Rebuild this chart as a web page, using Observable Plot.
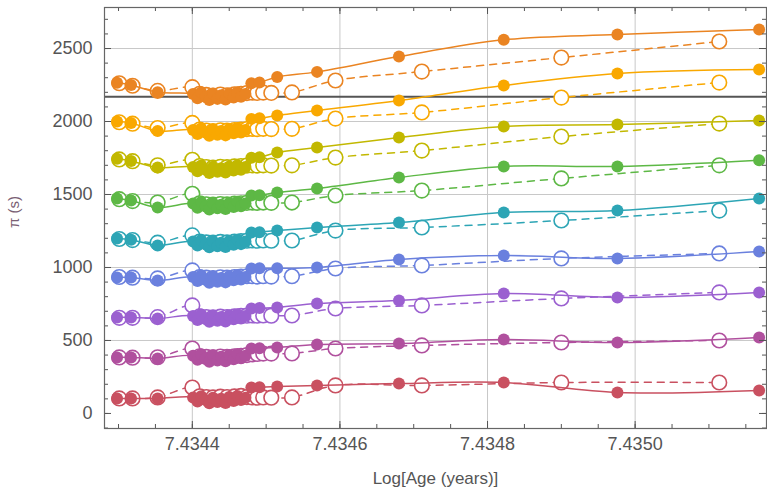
<!DOCTYPE html>
<html><head><meta charset="utf-8">
<script src="https://cdn.jsdelivr.net/npm/d3@7"></script>
<script src="https://cdn.jsdelivr.net/npm/@observablehq/plot@0.6"></script>
<style>body{margin:0;background:#fff}</style>
</head><body><div id="chart"></div>
<script>
// Log[Age] positions of the filled (solid) and open (dashed) model points
const xFilled = [7.434298, 7.434317, 7.434353, 7.434401, 7.434407, 7.434412, 7.434418, 7.434423, 7.434428, 7.434434, 7.434439, 7.434445, 7.434450, 7.434456, 7.434461, 7.434466, 7.434472, 7.434480, 7.434491, 7.434515, 7.434569, 7.434680, 7.434822, 7.434976, 7.435168];
const xOpen = [7.434301, 7.434319, 7.434353, 7.434400, 7.434410, 7.434419, 7.434428, 7.434438, 7.434447, 7.434457, 7.434466, 7.434474, 7.434481, 7.434488, 7.434496, 7.434507, 7.434535, 7.434594, 7.434711, 7.434900, 7.435114];

const seriesNames = ["red", "pink", "purple", "blue", "teal", "green", "olive", "yellow", "orange"];
const seriesColors = ["#c95060", "#b0509e", "#9b60d0", "#6a80de", "#2da5b5", "#5db845", "#c2b800", "#f9a800", "#ea8422"];

const redFilled = [103, 103, 103, 110, 82, 118, 92, 70, 108, 78, 100, 72, 112, 86, 120, 92, 108, 178, 180, 185, 192, 205, 212, 144, 158];
const redOpen = [103, 103, 110, 178, 118, 112, 110, 115, 112, 117, 120, 112, 110, 108, 110, 108, 110, 192, 192, 212, 212];
const pinkFilled = [384, 384, 377, 395, 368, 405, 378, 355, 398, 362, 388, 358, 400, 372, 408, 378, 396, 445, 447, 452, 473, 479, 507, 486, 521];
const pinkOpen = [384, 382, 385, 445, 392, 387, 385, 390, 387, 392, 395, 400, 405, 408, 410, 410, 411, 445, 466, 486, 500];
const purpleFilled = [658, 658, 651, 668, 640, 678, 650, 628, 670, 635, 660, 630, 672, 645, 680, 650, 668, 719, 722, 726, 753, 774, 822, 795, 829];
const purpleOpen = [655, 655, 660, 740, 665, 660, 658, 663, 660, 665, 668, 670, 671, 670, 671, 670, 671, 719, 740, 788, 829];
const blueFilled = [932, 932, 911, 935, 908, 945, 918, 895, 938, 902, 928, 898, 940, 912, 948, 918, 935, 993, 995, 995, 1000, 1055, 1082, 1062, 1110];
const blueOpen = [935, 930, 925, 980, 935, 930, 928, 933, 930, 935, 938, 940, 940, 938, 940, 938, 940, 993, 1014, 1062, 1096];
const tealFilled = [1199, 1190, 1151, 1178, 1150, 1188, 1160, 1138, 1180, 1145, 1170, 1140, 1182, 1155, 1190, 1160, 1178, 1240, 1242, 1253, 1274, 1308, 1377, 1390, 1473];
const tealOpen = [1195, 1188, 1170, 1220, 1178, 1172, 1170, 1175, 1172, 1177, 1180, 1183, 1185, 1183, 1185, 1183, 1185, 1253, 1274, 1322, 1390];
const greenFilled = [1473, 1459, 1411, 1438, 1410, 1448, 1420, 1398, 1440, 1405, 1430, 1400, 1442, 1415, 1450, 1420, 1438, 1493, 1495, 1514, 1541, 1616, 1692, 1692, 1735];
const greenOpen = [1468, 1455, 1445, 1505, 1440, 1433, 1430, 1435, 1432, 1437, 1440, 1443, 1445, 1443, 1445, 1443, 1445, 1493, 1527, 1610, 1700];
const oliveFilled = [1745, 1730, 1685, 1688, 1660, 1698, 1670, 1648, 1690, 1655, 1680, 1650, 1692, 1665, 1700, 1670, 1688, 1752, 1755, 1788, 1822, 1890, 1966, 1979, 2007];
const oliveOpen = [1740, 1728, 1700, 1738, 1695, 1688, 1685, 1690, 1687, 1692, 1695, 1698, 1700, 1698, 1700, 1698, 1700, 1753, 1801, 1897, 1986];
const yellowFilled = [2000, 1990, 1935, 1942, 1915, 1952, 1925, 1903, 1945, 1910, 1935, 1905, 1948, 1920, 1955, 1925, 1942, 2018, 2022, 2041, 2075, 2144, 2247, 2329, 2356];
const yellowOpen = [1995, 1985, 1955, 1990, 1945, 1938, 1935, 1940, 1937, 1942, 1945, 1948, 1950, 1948, 1950, 1948, 1950, 2020, 2062, 2164, 2267];
const orangeFilled = [2265, 2250, 2200, 2188, 2160, 2198, 2170, 2148, 2190, 2155, 2180, 2150, 2192, 2165, 2200, 2170, 2188, 2262, 2268, 2305, 2340, 2445, 2560, 2596, 2630];
const orangeOpen = [2262, 2245, 2210, 2235, 2190, 2182, 2178, 2185, 2180, 2186, 2190, 2195, 2198, 2196, 2198, 2196, 2199, 2281, 2342, 2438, 2548];

const xMajorTicks = [7.4344, 7.4346, 7.4348, 7.4350];
const yMajorTicks = [0, 500, 1000, 1500, 2000, 2500];
const separatorPi = [2170];
const xDomain = [7.434281, 7.435178];
const yDomain = [-103, 2781];

const filledSets = [redFilled, pinkFilled, purpleFilled, blueFilled, tealFilled, greenFilled, oliveFilled, yellowFilled, orangeFilled];
const openSets = [redOpen, pinkOpen, purpleOpen, blueOpen, tealOpen, greenOpen, oliveOpen, yellowOpen, orangeOpen];

const W = 767, H = 498, mT = 7, mB = 70, mL = 104, mR = 1;
const innerW = W - mL - mR, innerH = H - mT - mB;

const xMinor = d3.range(0, 20).map(i => +(7.4343 + i * 0.00005).toFixed(5)).filter(v => v > xDomain[0] && v < xDomain[1]);
const yMinor = d3.range(-1, 28).map(i => i * 100);
const xMaj = xMinor.filter(v => xMajorTicks.some(t => Math.abs(t - v) < 1e-9));
const yMaj = yMinor.filter(v => v % 500 === 0);
const tickColor = "#555";

const marks = [
  Plot.ruleX(xMajorTicks, {x: d => d, stroke: "#c8c8c8", strokeWidth: 1}),
  Plot.ruleY(yMajorTicks.filter(v => v > 0), {y: d => d, stroke: "#c8c8c8", strokeWidth: 1}),
  Plot.ruleY(separatorPi, {y: d => d, stroke: "#555", strokeWidth: 2})
];

seriesNames.forEach((name, i) => {
  const color = seriesColors[i];
  const open = openSets[i].map((v, j) => ({x: xOpen[j], y: v}));
  const filled = filledSets[i].map((v, j) => ({x: xFilled[j], y: v}));
  marks.push(
    Plot.line(open, {x: "x", y: "y", stroke: color, strokeWidth: 1.5, strokeDasharray: "7,6", curve: "catmull-rom"}),
    Plot.dot(open, {x: "x", y: "y", r: 7.3, stroke: color, strokeWidth: 1.6, fill: "white"}),
    Plot.line(filled, {x: "x", y: "y", stroke: color, strokeWidth: 1.5, curve: "catmull-rom"}),
    Plot.dot(filled, {x: "x", y: "y", r: 6, fill: color, stroke: "none"})
  );
});

marks.push(
  // inward ticks on all four sides
  Plot.tickX(xMinor, {x: d => d, insetTop: innerH - 4, stroke: tickColor}),
  Plot.tickX(xMaj, {x: d => d, insetTop: innerH - 7, stroke: tickColor}),
  Plot.tickX(xMinor, {x: d => d, insetBottom: innerH - 4, stroke: tickColor}),
  Plot.tickX(xMaj, {x: d => d, insetBottom: innerH - 7, stroke: tickColor}),
  Plot.tickY(yMinor, {y: d => d, insetRight: innerW - 4, stroke: tickColor}),
  Plot.tickY(yMaj, {y: d => d, insetRight: innerW - 7, stroke: tickColor}),
  Plot.tickY(yMinor, {y: d => d, insetLeft: innerW - 4, stroke: tickColor}),
  Plot.tickY(yMaj, {y: d => d, insetLeft: innerW - 7, stroke: tickColor}),
  Plot.frame({stroke: "#666", strokeWidth: 1.2}),
  Plot.axisX({ticks: xMajorTicks, tickFormat: d => d.toFixed(4), tickSize: 0, tickPadding: 9, fontSize: 18, fill: "#555", label: null}),
  Plot.axisY({ticks: yMajorTicks, tickFormat: d => String(d), tickSize: 0, tickPadding: 12, fontSize: 18, fill: "#555", label: null}),
  Plot.text(["Log[Age (years)]"], {frameAnchor: "bottom", dy: 55, text: d => d, fontSize: 17, fill: "#555"}),
  Plot.text(["π (s)"], {frameAnchor: "left", dx: -90, dy: 10, rotate: -90, text: d => d, fontSize: 15, fill: "#7a5f74"})
);

const chart = Plot.plot({
  width: W, height: H,
  marginTop: mT, marginBottom: mB, marginLeft: mL, marginRight: mR,
  style: {fontFamily: "'Liberation Sans', Arial, sans-serif", background: "white", overflow: "visible"},
  x: {domain: xDomain, axis: null},
  y: {domain: yDomain, axis: null},
  marks
});
document.getElementById("chart").appendChild(chart);
</script>
</body></html>
